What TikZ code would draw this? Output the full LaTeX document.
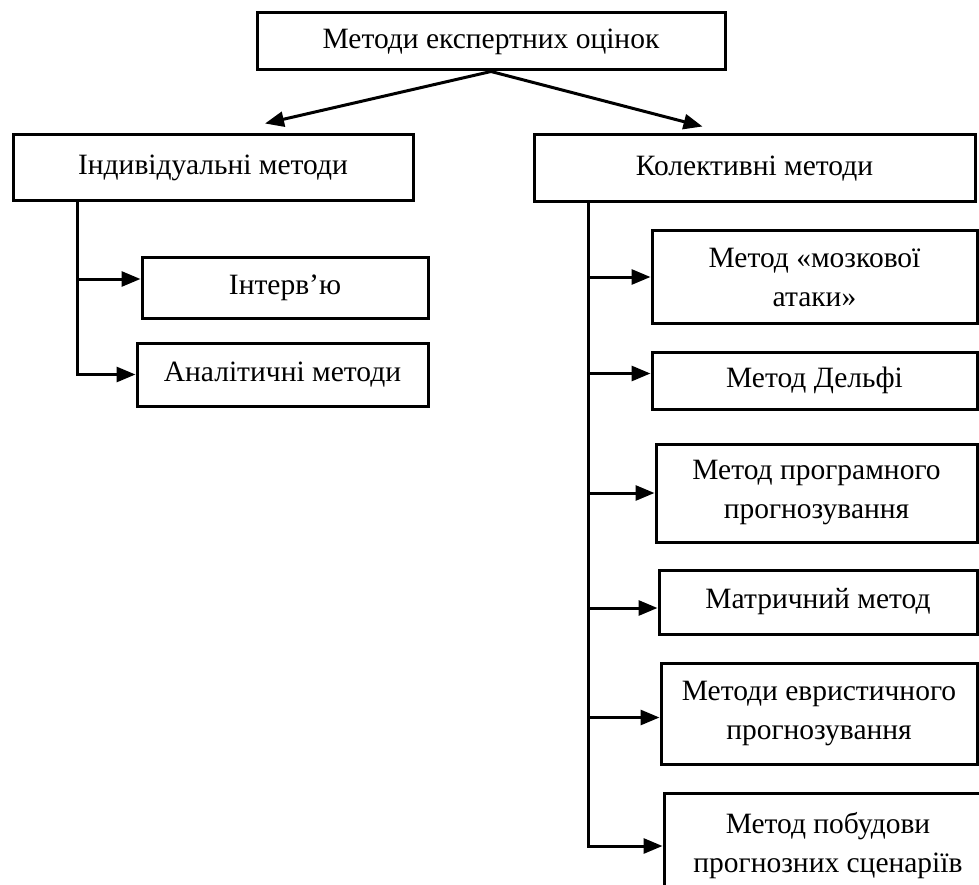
\documentclass[tikz,border=0pt]{standalone}
\usepackage{fontspec}
\setmainfont{Liberation Serif}
\usepackage{tikz}
\usetikzlibrary{arrows.meta}
\tikzstyle{block} = [rectangle, draw=black, line width=3pt, text centered, align=center, inner sep=0pt, font=\fontsize{29.5}{39}\selectfont]
\tikzstyle{arrow} = [line width=3pt, -{Triangle[length=19pt,width=15pt]}]

\begin{document}
\begin{tikzpicture}[x=1pt, y=-1pt]
        \useasboundingbox (0,0) rectangle (979,885);
        \node (root) [block, minimum width=468pt, minimum height=57pt] at (491,41.5) {Методи експертних оцінок};
        \node (indiv) [block, minimum width=400pt, minimum height=66pt] at (213,168) {Індивідуальні методи};
        \node (coll) [block, minimum width=441pt, minimum height=67pt] at (754.5,168.5) {Колективні методи};

        % individual methods
        \node (interview) [block, minimum width=286pt, minimum height=60pt] at (285,288) {Інтерв’ю};
        \node (analyt) [block, minimum width=291pt, minimum height=63pt] at (282.5,374.5) {Аналітичні методи};

        % collective methods
        \node (brain) [block, minimum width=325pt, minimum height=92pt] at (814.5,277) {Метод «мозкової\\атаки»};
        \node (delphi) [block, minimum width=325pt, minimum height=57pt] at (814.5,380.5) {Метод Дельфі};
        \node (program) [block, minimum width=321pt, minimum height=98pt] at (816.5,493) {Метод програмного\\прогнозування};
        \node (matrix) [block, minimum width=318pt, minimum height=64pt] at (818,602) {Матричний метод};
        \node (heur) [block, minimum width=316pt, minimum height=101pt] at (819,713.5) {Методи евристичного\\прогнозування};
        \node (scen) [block, minimum width=328pt, minimum height=106pt] at (828,846) {Метод побудови\\прогнозних сценаріїв};

        \coordinate (ltrunk) at (77,201);
        \coordinate (rtrunk) at (588,202);

        \draw [arrow] (root.south) -- ([xshift=52pt,yshift=10pt]indiv.north);
        \draw [arrow] (root.south) -- ([xshift=-52pt,yshift=7pt]coll.north);

        \draw [arrow] (ltrunk |- interview.west) ++(0,-9) -- ([yshift=9pt]interview.west);
        \draw [arrow] (ltrunk) |- (analyt.west);

        \draw [arrow] (rtrunk |- brain.west) -- (brain.west);
        \draw [arrow] ([yshift=7pt]rtrunk |- delphi.west) -- ([yshift=7pt]delphi.west);
        \draw [arrow] (rtrunk |- program.west) -- (program.west);
        \draw [arrow] ([yshift=-6pt]rtrunk |- matrix.west) -- ([yshift=-6pt]matrix.west);
        \draw [arrow] ([yshift=-4pt]rtrunk |- heur.west) -- ([yshift=-4pt]heur.west);
        \draw [arrow] (rtrunk) |- (scen.west);
    \end{tikzpicture}
\end{document}
